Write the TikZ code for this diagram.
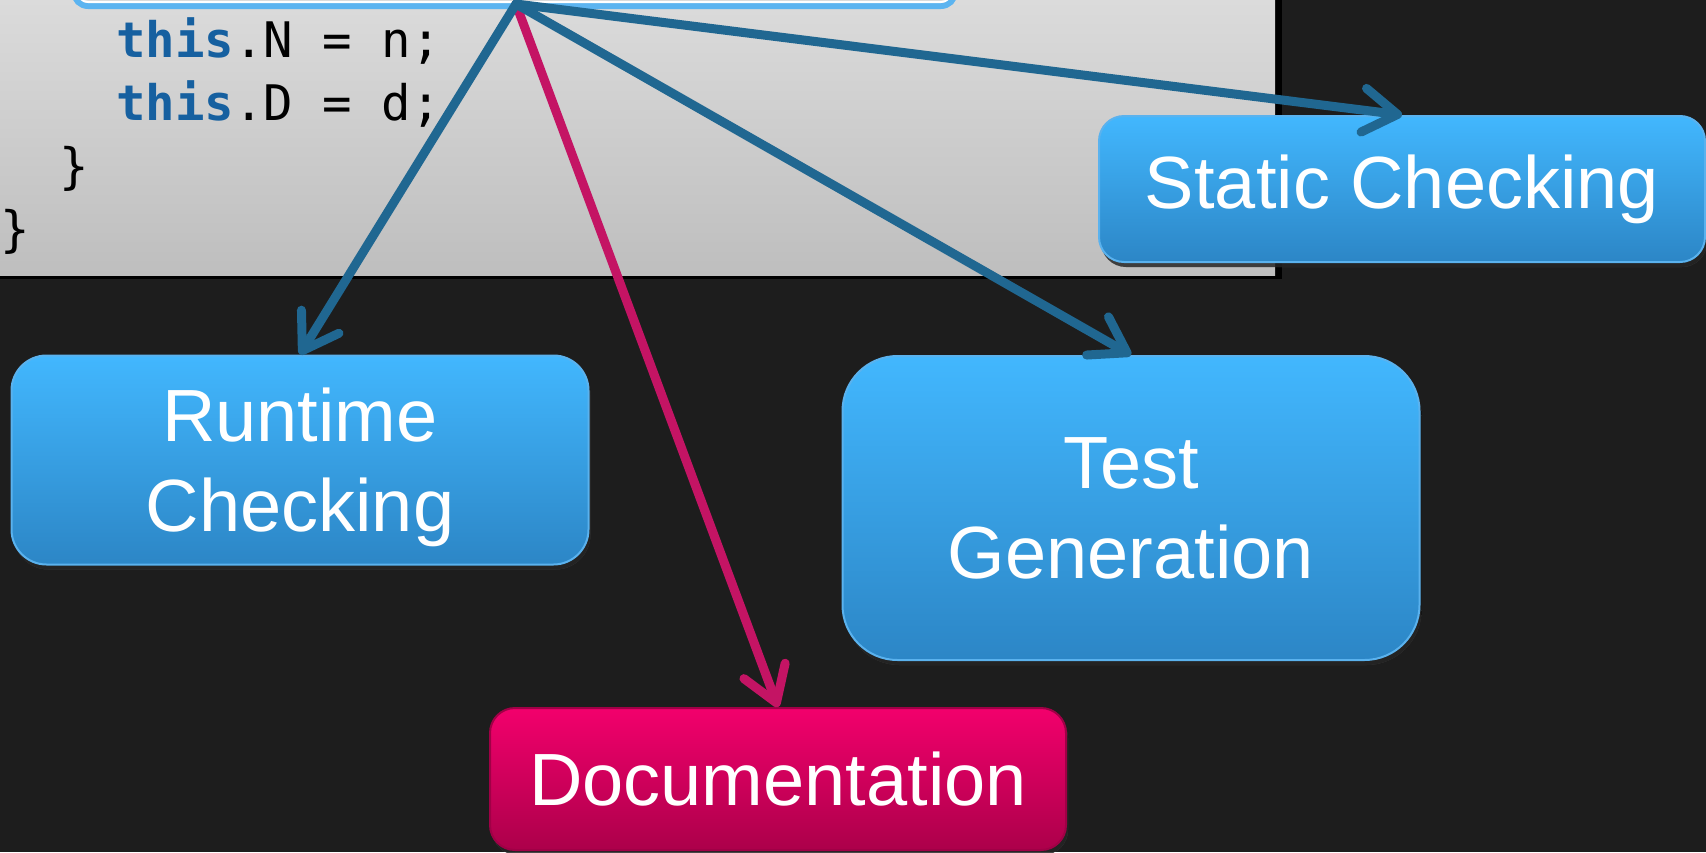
\documentclass[tikz,border=0pt]{standalone}
\usepackage{fontspec}
\setmainfont{Liberation Sans}
\newfontfamily\codefont{DejaVu Sans Mono}
\usetikzlibrary{arrows.meta,shadows}

\definecolor{bgdark}{RGB}{29,29,29}
\definecolor{paneltop}{RGB}{219,219,219}
\definecolor{panelbot}{RGB}{190,190,190}
\definecolor{kwblue}{RGB}{22,96,160}
\definecolor{hlblue}{RGB}{92,180,240}
\definecolor{boxtop}{RGB}{66,183,254}
\definecolor{boxbot}{RGB}{44,134,198}
\definecolor{boxedge}{RGB}{90,178,238}
\definecolor{doctop}{RGB}{242,0,108}
\definecolor{docbot}{RGB}{172,0,74}
\definecolor{docedge}{RGB}{160,0,70}
\definecolor{arrowblue}{RGB}{32,103,145}
\definecolor{arrowpink}{RGB}{196,20,100}

\begin{document}
\begin{tikzpicture}[x=1pt,y=-1pt,
  tool/.style={rectangle,rounded corners=#1,draw=boxedge,line width=2pt,
    top color=boxtop,bottom color=boxbot,text=white,align=center,inner sep=0pt,
    font=\fontsize{74}{90}\selectfont,
    drop shadow={shadow xshift=2pt,shadow yshift=-5pt,top color=black,bottom color=black,draw=none,opacity=.6}},
  tool/.default=25pt,
  doc/.style={tool,draw=docedge,top color=doctop,bottom color=docbot},
  code/.style={anchor=base west,inner sep=0pt,font=\codefont\fontsize{49}{63}\selectfont},
  conn/.style={arrowblue,line width=9pt,line cap=round,
    -{Straight Barb[length=34pt,width=44pt,round]}}]
  % background and bounding box
  \fill[bgdark] (0,0) rectangle (1706,852);
  \useasboundingbox (0,0) rectangle (1706,852);

  % code panel with its shadow
  \fill[black] (0,0) rectangle (1282,279);
  \shade[top color=paneltop,bottom color=panelbot] (0,0) rectangle (1275,275);

  % highlighted line (cut off at the top)
  \draw[hlblue,line width=6pt,rounded corners=14pt] (74,-60) rectangle (955,6);
  \draw[white,line width=2pt,rounded corners=10pt] (78,-60) rectangle (951,2);

  % code lines
  \node[code] (lineN) at (116,57) {\textbf{\color{kwblue}this}.N = n;};
  \node[code] (lineD) at (116,120) {\textbf{\color{kwblue}this}.D = d;};
  \node[code] (close1) at (59,183) {\}};
  \node[code] (close2) at (0,246) {\}};

  % uses of the contract
  \node[tool=25pt,minimum width=606pt,minimum height=146pt] (static) at (1402,189) {Static Checking};
  \node[tool=35pt,minimum width=577pt,minimum height=209pt,text depth=-8pt] (runtime) at (300,460) {Runtime\\Checking};
  \node[tool=55pt,minimum width=577pt,minimum height=304pt,text depth=-8pt] (testgen) at (1131,508) {Test\\Generation};
  \node[doc=25pt,minimum width=576pt,minimum height=142pt] (docs) at (778,779) {Documentation};

  % arrows fanning out of the highlighted line
  \coordinate (src) at (516,4);
  \draw[conn,arrowpink] (src) -- (docs.north);
  \draw[conn] (src) -- (runtime.north);
  \draw[conn] (src) -- (testgen.north);
  \draw[conn] (src) -- (static.north);
\end{tikzpicture}
\end{document}
